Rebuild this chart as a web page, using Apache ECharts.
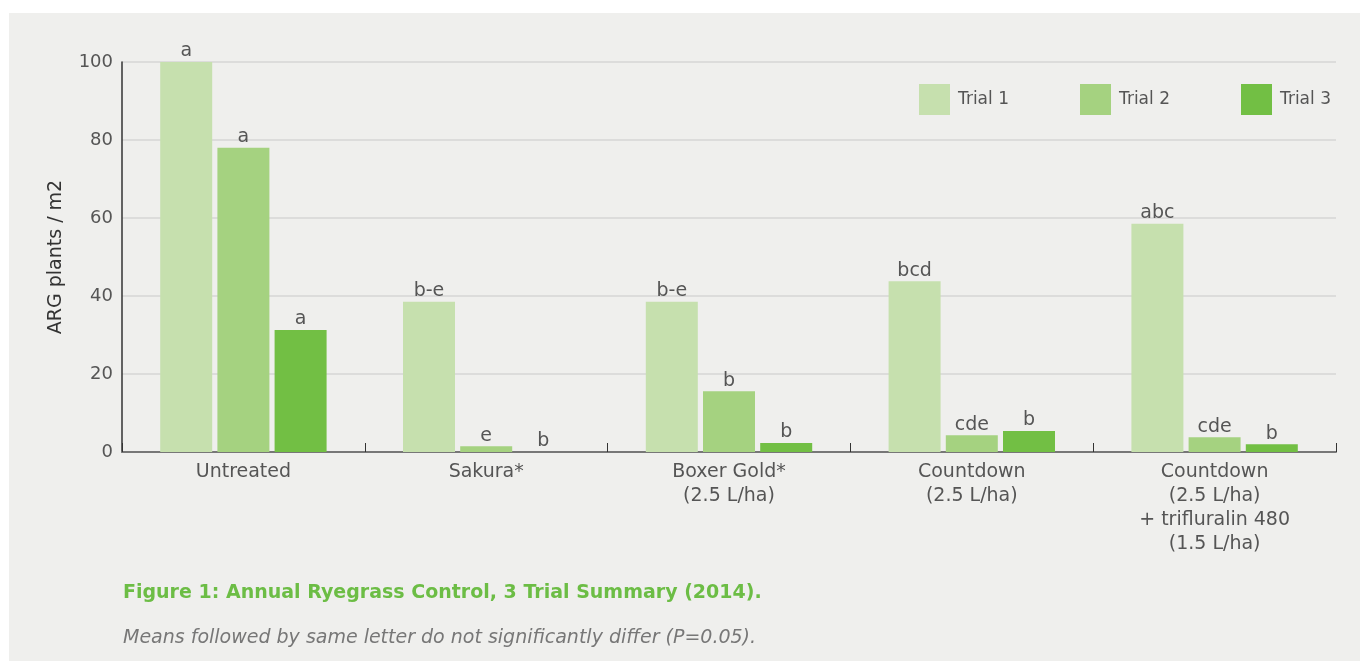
<!DOCTYPE html>
<html>
<head>
<meta charset="utf-8">
<style>
  html, body { margin: 0; padding: 0; background: #fff; }
  #main { width: 1360px; height: 661px; }
</style>
<script src="https://cdn.jsdelivr.net/npm/echarts@6/dist/echarts.min.js"></script>
</head>
<body>
<div id="main"></div>
<script>
// data
const categories = [
  'Untreated',
  'Sakura*',
  'Boxer Gold*\n(2.5 L/ha)',
  'Countdown\n(2.5 L/ha)',
  'Countdown\n(2.5 L/ha)\n+ trifluralin 480\n(1.5 L/ha)'
];
const seriesNames = ['Trial 1', 'Trial 2', 'Trial 3'];
const trial1 = [100, 38.5, 38.5, 43.8, 58.5];
const trial2 = [78, 1.5, 15.6, 4.3, 3.8];
const trial3 = [31.3, 0, 2.3, 5.4, 2.0];
const letters1 = ['a', 'b-e', 'b-e', 'bcd', 'abc'];
const letters2 = ['a', 'e', 'b', 'cde', 'cde'];
const letters3 = ['a', 'b', 'b', 'b', 'b'];
const yTicks = [0, 20, 40, 60, 80, 100];

const colors = ['#c6e0ae', '#a5d280', '#72bf44'];
const font = '"DejaVu Sans", sans-serif';

const chart = echarts.init(document.getElementById('main'));

const makeSeries = (name, data, letters, color) => ({
  name: name,
  type: 'bar',
  data: data,
  barWidth: 52,
  barGap: '10%',
  itemStyle: { color: color },
  label: {
    show: true,
    position: 'top',
    distance: 1,
    color: '#555',
    fontFamily: font,
    fontSize: 19,
    formatter: p => letters[p.dataIndex]
  }
});

const legendAt = (name, left) => ({
  data: [name],
  left: left,
  top: 84,
  padding: 0,
  itemWidth: 31,
  itemHeight: 31,
  icon: 'rect',
  textStyle: { color: '#555', fontFamily: font, fontSize: 17, padding: [0, 0, 0, 3] }
});

const option = {
  backgroundColor: '#ffffff',
  animation: false,
  graphic: [{
    type: 'rect',
    z: -10,
    shape: { x: 9, y: 13, width: 1351, height: 648 },
    style: { fill: '#efefed' }
  }],
  title: [
    {
      text: 'Figure 1: Annual Ryegrass Control, 3 Trial Summary (2014).',
      left: 118,
      top: 579,
      textStyle: { color: '#6cbd45', fontFamily: font, fontSize: 19, fontWeight: 'bold' }
    },
    {
      text: 'Means followed by same letter do not significantly differ (P=0.05).',
      left: 118,
      top: 624,
      textStyle: { color: '#777', fontFamily: font, fontSize: 19, fontStyle: 'italic', fontWeight: 'normal' }
    }
  ],
  legend: [
    legendAt(seriesNames[0], 919),
    legendAt(seriesNames[1], 1080),
    legendAt(seriesNames[2], 1241)
  ],
  grid: { left: 122, right: 24, top: 62, bottom: 209 },
  xAxis: {
    type: 'category',
    data: categories,
    axisLine: { lineStyle: { color: '#777', width: 2 } },
    axisTick: { show: true, inside: true, length: 9, lineStyle: { color: '#333' } },
    axisLabel: {
      color: '#555',
      fontFamily: font,
      fontSize: 19,
      lineHeight: 24,
      margin: 8,
      interval: 0
    }
  },
  yAxis: {
    type: 'value',
    min: yTicks[0],
    max: yTicks[yTicks.length - 1],
    interval: 20,
    name: 'ARG plants / m2',
    nameLocation: 'middle',
    nameGap: 56,
    nameRotate: 90,
    nameTextStyle: { color: '#333', fontFamily: font, fontSize: 19 },
    axisLine: { show: true, lineStyle: { color: '#333', width: 1.5 } },
    axisTick: { show: false },
    axisLabel: { color: '#555', fontFamily: font, fontSize: 18, margin: 9 },
    splitLine: { lineStyle: { color: '#d6d6d4', width: 1.5 } }
  },
  series: [
    makeSeries(seriesNames[0], trial1, letters1, colors[0]),
    makeSeries(seriesNames[1], trial2, letters2, colors[1]),
    makeSeries(seriesNames[2], trial3, letters3, colors[2])
  ]
};

chart.setOption(option);
</script>
</body>
</html>
